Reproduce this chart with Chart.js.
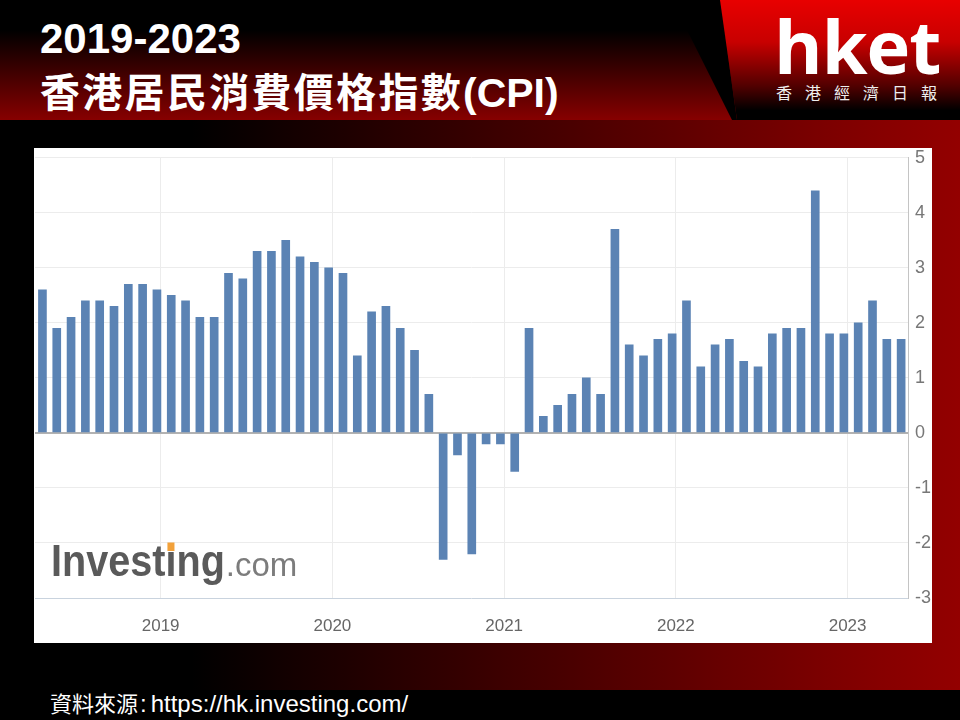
<!DOCTYPE html>
<html>
<head>
<meta charset="utf-8">
<script src="https://cdn.jsdelivr.net/npm/chart.js@4.4.0/dist/chart.umd.min.js"></script>
<style>
  html, body { margin: 0; padding: 0; }
  body { width: 960px; height: 720px; background: #000; position: relative; overflow: hidden; font-family: "Liberation Sans", Arial, sans-serif; }
  .abs { position: absolute; }
  #header { left: 0; top: 0; width: 960px; height: 120px; background: linear-gradient(to bottom, #000 0%, #000 25%, #870000 100%); }
  #wedge { left: 0; top: 0; width: 960px; height: 120px; background: #000; clip-path: polygon(672px 0, 720px 0, 737px 120px, 732px 120px); }
  #logoBg { left: 0; top: 0; width: 960px; height: 120px; background: linear-gradient(to bottom, #e80000 0%, #c80000 35%, #500000 72%, #000 92%); clip-path: polygon(720px 0, 960px 0, 960px 120px, 737px 120px); }
  #band { left: 0; top: 120px; width: 960px; height: 570px; background: linear-gradient(to right, #000 0%, #000 20%, #870000 92%, #930000 100%); }
  #panel { left: 34px; top: 148px; width: 898px; height: 495px; background: #fff; }
  #chartBox { left: 34px; top: 140px; width: 898px; height: 503px; }
  #t1 { left: 40px; top: 18px; color: #fff; font: bold 42px/42px "Liberation Sans", Arial, sans-serif; white-space: nowrap; }
  #t2 { left: 40px; top: 70px; color: #fff; font-size: 40px; line-height: 40px; white-space: nowrap; }
  #t2 .cjk { font-family: "Noto Sans CJK TC", sans-serif; font-weight: bold; letter-spacing: 2.3px; }
  #t2 .lat { font-family: "Liberation Sans", Arial, sans-serif; font-weight: bold; font-size: 41px; }
  #logo { left: 774px; top: 9px; color: #fff; font: bold 74px/74px "Open Sans", sans-serif; letter-spacing: -1px; white-space: nowrap; }
  #logoSub { left: 776px; top: 84px; color: #eee; font: 16px/16px "Noto Sans CJK TC", sans-serif; letter-spacing: 13px; white-space: nowrap; }
  #source { left: 50px; top: 688px; color: #fff; font-size: 24px; line-height: 28px; white-space: nowrap; }
  #source .cjk { font-family: "Noto Sans CJK TC", sans-serif; font-size: 22px; }
  #source .colon { margin: 0 4px 0 2px; }
</style>
</head>
<body>
<div id="header" class="abs"></div>
<div id="wedge" class="abs"></div>
<div id="logoBg" class="abs"></div>
<div id="band" class="abs"></div>
<div id="panel" class="abs"></div>
<div id="t1" class="abs">2019-2023</div>
<div id="t2" class="abs"><span class="cjk">香港居民消費價格指數</span><span class="lat">(CPI)</span></div>
<div id="logo" class="abs">hket</div>
<div id="logoSub" class="abs">香港經濟日報</div>
<div id="chartBox" class="abs"><canvas id="cpi-chart" width="898" height="503"></canvas></div>
<div id="source" class="abs"><span class="cjk">資料來源</span><span class="colon">:</span>https://hk.investing.com/</div>

<script>
// reference month of each reading (plotted at its release date, ~3 weeks into the next month)
const months = [
  "2018-03", "2018-04", "2018-05", "2018-06", "2018-07", "2018-08", "2018-09", "2018-10", "2018-11", "2018-12",
  "2019-01", "2019-02", "2019-03", "2019-04", "2019-05", "2019-06", "2019-07", "2019-08", "2019-09", "2019-10", "2019-11", "2019-12",
  "2020-01", "2020-02", "2020-03", "2020-04", "2020-05", "2020-06", "2020-07", "2020-08", "2020-09", "2020-10", "2020-11", "2020-12",
  "2021-01", "2021-02", "2021-03", "2021-04", "2021-05", "2021-06", "2021-07", "2021-08", "2021-09", "2021-10", "2021-11", "2021-12",
  "2022-01", "2022-02", "2022-03", "2022-04", "2022-05", "2022-06", "2022-07", "2022-08", "2022-09", "2022-10", "2022-11", "2022-12",
  "2023-01", "2023-02", "2023-03"
];

// YoY CPI, %
const cpiValues = [
  2.6, 1.9, 2.1, 2.4, 2.4, 2.3, 2.7, 2.7, 2.6, 2.5,
  2.4, 2.1, 2.1, 2.9, 2.8, 3.3, 3.3, 3.5, 3.2, 3.1, 3.0, 2.9,
  1.4, 2.2, 2.3, 1.9, 1.5, 0.7, -2.3, -0.4, -2.2, -0.2, -0.2, -0.7,
  1.9, 0.3, 0.5, 0.7, 1.0, 0.7, 3.7, 1.6, 1.4, 1.7, 1.8, 2.4,
  1.2, 1.6, 1.7, 1.3, 1.2, 1.8, 1.9, 1.9, 4.4, 1.8, 1.8, 2.0,
  2.4, 1.7, 1.7
];

const yearLabels = ["2019", "2020", "2021", "2022", "2023"];
const yTicks = [-3, -2, -1, 0, 1, 2, 3, 4, 5];

const baseYear = 2018;
const releaseLag = 1.74; // months after start of the reference month

// months since Jan 2018
function monthPos(str) {
  const [y, m] = str.split("-").map(Number);
  return (y - baseYear) * 12 + (m - 1);
}

const points = months.map((m, i) => ({ x: monthPos(m) + releaseLag, y: cpiValues[i] }));

const watermark = {
  id: "watermark",
  beforeDatasetsDraw(chart) {
    const ctx = chart.ctx;
    const x0 = 17, base = 436;
    ctx.save();
    ctx.textBaseline = "alphabetic";
    ctx.textAlign = "left";
    ctx.font = 'bold 45px "Liberation Sans", Arial, sans-serif';
    ctx.translate(x0, base);
    ctx.scale(0.88, 1);
    ctx.fillStyle = "#5a5a5a";
    ctx.fillText("Investing", 0, 0);
    const dotX = ctx.measureText("Invest").width + ctx.measureText("i").width / 2;
    const w = ctx.measureText("Investing").width;
    ctx.fillStyle = "#f2a13a";
    ctx.fillRect(dotX - 4, -33.5, 8, 8.5);
    ctx.restore();

    ctx.save();
    ctx.textBaseline = "alphabetic";
    ctx.font = '33px "Liberation Sans", Arial, sans-serif';
    ctx.fillStyle = "#7c7c7c";
    ctx.fillText(".com", x0 + w * 0.88 + 1, base);
    ctx.restore();
  }
};

const ctx = document.getElementById("cpi-chart").getContext("2d");
new Chart(ctx, {
  type: "bar",
  data: {
    datasets: [
      {
        label: "CPI",
        data: points,
        backgroundColor: "#5b83b4",
        borderWidth: 0,
        barThickness: 8,
      },
    ],
  },
  options: {
    responsive: false,
    animation: false,
    devicePixelRatio: 1,
    layout: { padding: { left: 1, top: 17, right: 0, bottom: 0 } },
    plugins: {
      legend: { display: false },
      tooltip: { enabled: false },
    },
    scales: {
      x: {
        type: "linear",
        min: 3.22,
        max: 64.22,
        offset: false,
        grid: { color: "#ececec", drawTicks: false, offset: false },
        border: { display: false },
        afterBuildTicks: (scale) => {
          scale.ticks = yearLabels.map((y) => ({ value: (Number(y) - baseYear) * 12 }));
        },
        afterFit: (scale) => { scale.height = 45; },
        ticks: {
          autoSkip: false,
          maxRotation: 0,
          padding: 18,
          color: "#666",
          font: { size: 17, family: '"Liberation Sans", Arial, sans-serif' },
          callback: (v) => String(baseYear + v / 12),
        },
      },
      y: {
        position: "right",
        min: -3,
        max: 5,
        afterBuildTicks: (scale) => {
          scale.ticks = yTicks.map((v) => ({ value: v }));
        },
        afterFit: (scale) => { scale.width = 24; },
        grid: {
          drawTicks: false,
          color: (c) => (c.tick.value === 0 ? "#b2b2b2" : c.tick.value === -3 ? "#c9d3de" : "#ececec"),
          lineWidth: (c) => (c.tick.value === 0 ? 2 : 1),
        },
        border: { display: true, color: "#c4c4c4" },
        ticks: {
          padding: 7,
          color: "#777",
          font: { size: 18, family: '"Liberation Sans", Arial, sans-serif' },
        },
      },
    },
  },
  plugins: [watermark],
});
</script>
</body>
</html>
